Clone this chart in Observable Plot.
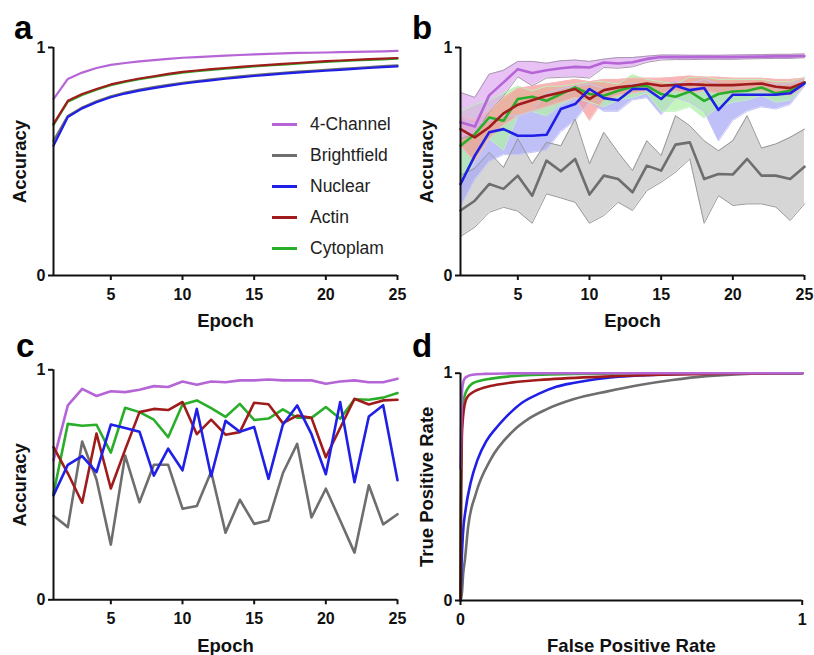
<!DOCTYPE html>
<html><head><meta charset="utf-8">
<script src="https://cdn.jsdelivr.net/npm/d3@7"></script>
<script src="https://cdn.jsdelivr.net/npm/@observablehq/plot@0.6"></script>
<style>
body{margin:0;background:#fff;}
#fig{position:relative;width:814px;height:655px;font-family:"Liberation Sans",Arial,sans-serif;overflow:hidden;}
.panel{position:absolute;}
.letter{position:absolute;font-weight:bold;font-size:33px;line-height:1;color:#000;}
#legend{position:absolute;left:272px;top:109.6px;}
.row{height:30.8px;display:flex;align-items:center;font-size:17.5px;color:#222;}
.sw{width:25px;height:3px;margin-right:13px;}
</style></head>
<body><div id="fig"></div>
<script>
// ---------- data ----------
const series = ["4-Channel","Brightfield","Nuclear","Actin","Cytoplam"];
const lineColors = ["#b565d6","#6e6e6e","#1f1fe6","#a01c1c","#2aae2a"];
const bandFills = ["#dfaaf0","#c6c6c6","#a8a8f6","#f69898","#aef0a6"];
const bandStrokes = ["#a898b0","#999999","#c6c6f6","#f6baba","#c0f2c0"];
const epochs = [1,2,3,4,5,6,7,8,9,10,11,12,13,14,15,16,17,18,19,20,21,22,23,24,25];
const epochTicks = [5,10,15,20,25];
const rateTicks = [0,1];

// panel a: training accuracy
const a_4ch = [0.774,0.862,0.890,0.910,0.924,0.932,0.939,0.945,0.950,0.955,0.958,0.961,0.964,0.967,0.970,0.972,0.974,0.976,0.977,0.978,0.980,0.981,0.982,0.983,0.985];
const a_bf  = [0.591,0.700,0.737,0.764,0.786,0.802,0.815,0.826,0.836,0.845,0.853,0.860,0.867,0.873,0.879,0.884,0.889,0.894,0.898,0.902,0.906,0.910,0.914,0.918,0.922];
const a_nuc = [0.569,0.695,0.733,0.760,0.782,0.798,0.811,0.822,0.832,0.841,0.849,0.856,0.863,0.869,0.875,0.880,0.885,0.890,0.894,0.898,0.902,0.906,0.910,0.914,0.917];
const a_act = [0.664,0.766,0.796,0.818,0.838,0.852,0.864,0.874,0.884,0.893,0.899,0.905,0.910,0.915,0.920,0.924,0.928,0.932,0.936,0.940,0.943,0.946,0.949,0.951,0.954];
const a_cyt = [0.660,0.762,0.792,0.815,0.835,0.849,0.861,0.871,0.881,0.890,0.896,0.902,0.907,0.912,0.917,0.921,0.925,0.929,0.933,0.937,0.940,0.943,0.946,0.948,0.951];

// panel b: validation accuracy mean and band
const b_4ch_mean = [0.672,0.653,0.790,0.847,0.905,0.888,0.900,0.909,0.915,0.912,0.934,0.930,0.935,0.950,0.958,0.958,0.958,0.959,0.958,0.958,0.959,0.960,0.961,0.961,0.963];
const b_4ch_hi   = [0.803,0.781,0.883,0.900,0.939,0.939,0.931,0.942,0.945,0.939,0.949,0.956,0.956,0.962,0.967,0.967,0.966,0.966,0.966,0.967,0.968,0.969,0.970,0.970,0.972];
const b_4ch_lo   = [0.600,0.620,0.715,0.788,0.871,0.832,0.866,0.869,0.871,0.866,0.912,0.909,0.915,0.935,0.945,0.947,0.947,0.948,0.948,0.948,0.950,0.951,0.952,0.952,0.955];
const b_bf_mean = [0.285,0.328,0.401,0.380,0.438,0.350,0.504,0.457,0.511,0.355,0.438,0.423,0.365,0.482,0.460,0.574,0.584,0.423,0.445,0.443,0.511,0.438,0.438,0.423,0.477];
const b_bf_hi   = [0.440,0.470,0.540,0.474,0.600,0.490,0.584,0.569,0.686,0.490,0.628,0.540,0.460,0.591,0.526,0.701,0.657,0.591,0.547,0.591,0.701,0.559,0.577,0.606,0.642];
const b_bf_lo   = [0.171,0.212,0.277,0.299,0.282,0.229,0.358,0.340,0.321,0.229,0.263,0.321,0.285,0.372,0.409,0.453,0.511,0.229,0.350,0.307,0.314,0.314,0.300,0.241,0.314];
const b_nuc_mean = [0.401,0.526,0.628,0.642,0.613,0.613,0.617,0.730,0.752,0.818,0.778,0.769,0.818,0.818,0.774,0.832,0.813,0.822,0.726,0.793,0.793,0.793,0.793,0.799,0.842];
const b_nuc_hi   = [0.700,0.660,0.680,0.700,0.700,0.720,0.800,0.820,0.830,0.840,0.820,0.820,0.840,0.840,0.830,0.850,0.840,0.860,0.840,0.830,0.840,0.840,0.840,0.840,0.860];
const b_nuc_lo   = [0.300,0.420,0.500,0.530,0.530,0.540,0.550,0.630,0.680,0.760,0.720,0.720,0.770,0.780,0.705,0.780,0.760,0.720,0.590,0.680,0.720,0.740,0.730,0.750,0.830];
const b_act_mean = [0.642,0.606,0.650,0.711,0.749,0.769,0.788,0.803,0.818,0.774,0.813,0.825,0.832,0.842,0.832,0.836,0.839,0.836,0.835,0.835,0.839,0.842,0.828,0.822,0.847];
const b_act_hi   = [0.700,0.680,0.720,0.780,0.820,0.830,0.840,0.850,0.860,0.850,0.860,0.860,0.865,0.865,0.865,0.870,0.875,0.870,0.870,0.865,0.865,0.865,0.860,0.860,0.865];
const b_act_lo   = [0.570,0.500,0.600,0.660,0.700,0.720,0.740,0.760,0.780,0.680,0.770,0.790,0.800,0.810,0.800,0.810,0.800,0.810,0.800,0.800,0.810,0.810,0.800,0.790,0.830];
const b_cyt_mean = [0.569,0.620,0.693,0.679,0.774,0.784,0.766,0.796,0.825,0.796,0.788,0.810,0.828,0.832,0.796,0.784,0.807,0.766,0.796,0.807,0.810,0.825,0.799,0.810,0.847];
const b_cyt_hi   = [0.720,0.750,0.770,0.800,0.830,0.810,0.830,0.830,0.840,0.850,0.850,0.840,0.880,0.860,0.850,0.840,0.870,0.870,0.860,0.860,0.860,0.860,0.850,0.850,0.870];
const b_cyt_lo   = [0.400,0.500,0.600,0.550,0.700,0.720,0.700,0.750,0.780,0.760,0.740,0.770,0.780,0.800,0.720,0.720,0.740,0.690,0.740,0.760,0.770,0.790,0.760,0.770,0.830];

// panel c: single-run validation accuracy
const c_4ch = [0.606,0.845,0.917,0.886,0.907,0.903,0.913,0.929,0.925,0.949,0.935,0.949,0.946,0.954,0.954,0.958,0.954,0.954,0.954,0.939,0.949,0.954,0.946,0.946,0.961];
const c_bf  = [0.365,0.316,0.688,0.523,0.240,0.627,0.424,0.587,0.587,0.396,0.408,0.557,0.292,0.435,0.330,0.345,0.550,0.678,0.358,0.483,0.345,0.205,0.498,0.328,0.372];
const c_nuc = [0.454,0.587,0.625,0.555,0.762,0.747,0.731,0.540,0.657,0.563,0.830,0.537,0.778,0.731,0.751,0.526,0.761,0.845,0.720,0.546,0.860,0.511,0.797,0.846,0.520];
const c_act = [0.664,0.550,0.422,0.723,0.484,0.653,0.816,0.830,0.825,0.860,0.720,0.783,0.718,0.729,0.857,0.850,0.768,0.801,0.791,0.620,0.747,0.874,0.849,0.867,0.870];
const c_cyt = [0.461,0.765,0.757,0.761,0.640,0.835,0.816,0.783,0.707,0.849,0.867,0.833,0.795,0.852,0.782,0.788,0.828,0.792,0.791,0.838,0.787,0.872,0.870,0.879,0.899];

// panel d: ROC curves
const d_4ch_fpr = [0,0.003,0.005,0.008,0.013,0.02,0.035,0.07,0.13,0.3,1];
const d_4ch_tpr = [0.58,0.85,0.93,0.96,0.978,0.986,0.993,0.997,0.999,1,1];
const d_bf_fpr  = [0,0.004,0.008,0.013,0.022,0.045,0.088,0.15,0.2,0.25,0.33,0.43,0.52,0.62,0.72,0.82,0.9,1];
const d_bf_tpr  = [0,0.03,0.12,0.18,0.32,0.47,0.62,0.74,0.8,0.84,0.885,0.92,0.947,0.97,0.987,0.996,0.999,1];
const d_nuc_fpr = [0,0.003,0.007,0.015,0.03,0.05,0.075,0.105,0.135,0.18,0.23,0.28,0.33,0.42,0.52,0.62,0.75,1];
const d_nuc_tpr = [0,0.16,0.29,0.4,0.52,0.62,0.7,0.76,0.81,0.87,0.91,0.94,0.957,0.978,0.99,0.996,0.999,1];
const d_act_fpr = [0,0.002,0.004,0.007,0.012,0.02,0.035,0.06,0.11,0.23,0.42,0.62,0.8,1];
const d_act_tpr = [0,0.5,0.72,0.8,0.86,0.895,0.915,0.932,0.95,0.97,0.985,0.994,0.998,1];
const d_cyt_fpr = [0,0.002,0.004,0.007,0.012,0.02,0.035,0.06,0.09,0.18,0.33,0.5,1];
const d_cyt_tpr = [0,0.6,0.78,0.86,0.9,0.93,0.955,0.968,0.976,0.99,0.997,0.999,1];

// ---------- helpers ----------
const fig = document.getElementById("fig");
const FONT = "'Liberation Sans', Arial, sans-serif";
const rows = (vals) => epochs.map((e, i) => ({epoch: e, v: vals[i]}));
const bandRows = (m, lo, hi) => epochs.map((e, i) => ({epoch: e, m: m[i], lo: lo[i], hi: hi[i]}));
const rocRows = (f, t) => f.map((x, i) => ({fpr: x, tpr: t[i]}));
const fmt = d => String(d);

function frameMarks(x0, xTicks, xLabel, yLabel) {
  return [
    Plot.ruleX([x0], {strokeWidth: 2, stroke: "#111"}),
    Plot.ruleY([0], {strokeWidth: 2, stroke: "#111"}),
    Plot.axisX({ticks: xTicks, tickFormat: fmt, tickSize: 5, tickPadding: 8, fontSize: 16, fontWeight: "bold", strokeWidth: 2, label: null}),
    Plot.axisY({ticks: rateTicks, tickFormat: fmt, tickSize: 5, tickPadding: 3, fontSize: 16, fontWeight: "bold", strokeWidth: 2, label: null}),
    Plot.text([xLabel], {text: d => d, frameAnchor: "bottom", dy: 46, textAnchor: "middle", lineAnchor: "middle", fontSize: 18.5, fontWeight: "bold"}),
    Plot.text([yLabel], {text: d => d, frameAnchor: "left", dx: -33, rotate: -90, textAnchor: "middle", lineAnchor: "middle", fontSize: 18.5, fontWeight: "bold"})
  ];
}

function place(svg, left, top) {
  const d = document.createElement("div");
  d.className = "panel";
  d.style.left = left + "px"; d.style.top = top + "px";
  d.appendChild(svg);
  fig.appendChild(d);
}
function letter(t, left, top) {
  const s = document.createElement("div");
  s.className = "letter"; s.textContent = t;
  s.style.left = left + "px"; s.style.top = top + "px";
  fig.appendChild(s);
}
const baseStyle = {fontFamily: FONT, fontWeight: "bold", color: "#111", background: "transparent", overflow: "visible"};

// ---------- panel a ----------
const aVals = [a_4ch, a_bf, a_nuc, a_cyt, a_act];
const aIdx = [0, 1, 2, 4, 3];
const aMarks = aVals.map((vals, k) =>
  Plot.line(rows(vals), {x: "epoch", y: "v", stroke: lineColors[aIdx[k]], strokeWidth: 2.2}));
place(Plot.plot({
  width: 407, height: 330, marginTop: 47, marginBottom: 55, marginLeft: 53, marginRight: 10,
  x: {domain: [1, 25]}, y: {domain: [0, 1]}, style: baseStyle,
  marks: [...aMarks, ...frameMarks(1, epochTicks, "Epoch", "Accuracy")]
}), 0, 0);

// ---------- panel b ----------
const bData = [
  bandRows(b_4ch_mean, b_4ch_lo, b_4ch_hi),
  bandRows(b_bf_mean, b_bf_lo, b_bf_hi),
  bandRows(b_nuc_mean, b_nuc_lo, b_nuc_hi),
  bandRows(b_act_mean, b_act_lo, b_act_hi),
  bandRows(b_cyt_mean, b_cyt_lo, b_cyt_hi)
];
const bandOrder = [1, 2, 4, 3, 0];
const lineOrder = [1, 4, 3, 2, 0];
const bMarks = [
  ...bandOrder.map(k => Plot.areaY(bData[k], {x: "epoch", y1: "lo", y2: "hi", fill: bandFills[k], fillOpacity: 0.72})),
  ...bandOrder.map(k => Plot.line(bData[k], {x: "epoch", y: "lo", stroke: bandStrokes[k], strokeWidth: 1})),
  ...bandOrder.map(k => Plot.line(bData[k], {x: "epoch", y: "hi", stroke: bandStrokes[k], strokeWidth: 1})),
  ...lineOrder.map(k => Plot.line(bData[k], {x: "epoch", y: "m", stroke: lineColors[k], strokeWidth: 2.6}))
];
place(Plot.plot({
  width: 407, height: 330, marginTop: 47, marginBottom: 55, marginLeft: 53, marginRight: 10,
  x: {domain: [1, 25]}, y: {domain: [0, 1]}, style: baseStyle,
  marks: [...bMarks, ...frameMarks(1, epochTicks, "Epoch", "Accuracy")]
}), 407, 0);

// ---------- panel c ----------
const cVals = [c_4ch, c_bf, c_cyt, c_act, c_nuc];
const cIdx = [0, 1, 4, 3, 2];
const cMarks = cVals.map((vals, k) =>
  Plot.line(rows(vals), {x: "epoch", y: "v", stroke: lineColors[cIdx[k]], strokeWidth: 2.6}));
place(Plot.plot({
  width: 407, height: 325, marginTop: 39.3, marginBottom: 55.7, marginLeft: 53, marginRight: 10,
  x: {domain: [1, 25]}, y: {domain: [0, 1]}, style: baseStyle,
  marks: [...cMarks, ...frameMarks(1, epochTicks, "Epoch", "Accuracy")]
}), 0, 330);

// ---------- panel d ----------
const dData = [
  rocRows(d_4ch_fpr, d_4ch_tpr),
  rocRows(d_bf_fpr, d_bf_tpr),
  rocRows(d_nuc_fpr, d_nuc_tpr),
  rocRows(d_act_fpr, d_act_tpr),
  rocRows(d_cyt_fpr, d_cyt_tpr)
];
const dOrder = [1, 2, 4, 3, 0];
const dMarks = dOrder.map(k => Plot.line(dData[k], {x: "fpr", y: "tpr", stroke: lineColors[k], strokeWidth: 2.6, curve: "monotone-x"}));
place(Plot.plot({
  width: 407, height: 325, marginTop: 42.7, marginBottom: 55, marginLeft: 53, marginRight: 12.3,
  x: {domain: [0, 1]}, y: {domain: [0, 1]}, style: baseStyle,
  marks: [...dMarks, ...frameMarks(0, rateTicks, "False Positive Rate", "True Positive Rate")]
}), 407, 330);

// ---------- legend (panel a) ----------
const leg = document.createElement("div");
leg.id = "legend";
series.forEach((s, i) => {
  const r = document.createElement("div"); r.className = "row";
  const sw = document.createElement("span"); sw.className = "sw"; sw.style.background = lineColors[i];
  const t = document.createElement("span"); t.textContent = s;
  r.appendChild(sw); r.appendChild(t); leg.appendChild(r);
});
fig.appendChild(leg);

// ---------- panel letters ----------
letter("a", 14, 11);
letter("b", 412, 11);
letter("c", 16, 329);
letter("d", 412, 329);
</script>
</body></html>
